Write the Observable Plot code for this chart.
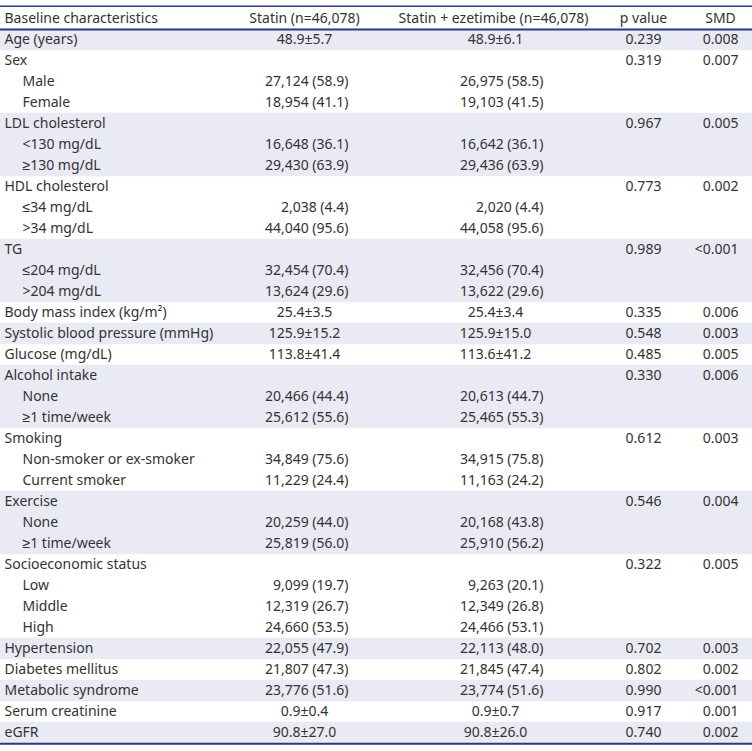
<!DOCTYPE html>
<html><head><meta charset="utf-8">
<script src="https://cdn.jsdelivr.net/npm/d3@7"></script>
<script src="https://cdn.jsdelivr.net/npm/@observablehq/plot@0.6"></script>
<style>html,body{margin:0;padding:0;background:#fff} svg{display:block}</style>
</head><body><div id="chart"></div><script>
const header = ["Baseline characteristics", "Statin (n=46,078)", "Statin + ezetimibe (n=46,078)", "p value", "SMD"];
const labels = ["Age (years)", "Sex", "Male", "Female", "LDL cholesterol", "<130 mg/dL", "≥130 mg/dL",
  "HDL cholesterol", "≤34 mg/dL", ">34 mg/dL", "TG", "≤204 mg/dL", ">204 mg/dL",
  "Body mass index (kg/m²)", "Systolic blood pressure (mmHg)", "Glucose (mg/dL)",
  "Alcohol intake", "None", "≥1 time/week", "Smoking", "Non-smoker or ex-smoker", "Current smoker",
  "Exercise", "None", "≥1 time/week", "Socioeconomic status", "Low", "Middle", "High",
  "Hypertension", "Diabetes mellitus", "Metabolic syndrome", "Serum creatinine", "eGFR"];
const levels = [0,0,1,1,0,1,1,0,1,1,0,1,1,0,0,0,0,1,1,0,1,1,0,1,1,0,1,1,1,0,0,0,0,0];
const statin = ["48.9±5.7", "", "27,124 (58.9)", "18,954 (41.1)", "", "16,648 (36.1)", "29,430 (63.9)",
  "", "2,038 (4.4)", "44,040 (95.6)", "", "32,454 (70.4)", "13,624 (29.6)",
  "25.4±3.5", "125.9±15.2", "113.8±41.4", "", "20,466 (44.4)", "25,612 (55.6)",
  "", "34,849 (75.6)", "11,229 (24.4)", "", "20,259 (44.0)", "25,819 (56.0)",
  "", "9,099 (19.7)", "12,319 (26.7)", "24,660 (53.5)",
  "22,055 (47.9)", "21,807 (47.3)", "23,776 (51.6)", "0.9±0.4", "90.8±27.0"];
const ezetimibe = ["48.9±6.1", "", "26,975 (58.5)", "19,103 (41.5)", "", "16,642 (36.1)", "29,436 (63.9)",
  "", "2,020 (4.4)", "44,058 (95.6)", "", "32,456 (70.4)", "13,622 (29.6)",
  "25.4±3.4", "125.9±15.0", "113.6±41.2", "", "20,613 (44.7)", "25,465 (55.3)",
  "", "34,915 (75.8)", "11,163 (24.2)", "", "20,168 (43.8)", "25,910 (56.2)",
  "", "9,263 (20.1)", "12,349 (26.8)", "24,466 (53.1)",
  "22,113 (48.0)", "21,845 (47.4)", "23,774 (51.6)", "0.9±0.7", "90.8±26.0"];
const pValues = ["0.239", "0.319", "", "", "0.967", "", "", "0.773", "", "", "0.989", "", "",
  "0.335", "0.548", "0.485", "0.330", "", "", "0.612", "", "", "0.546", "", "",
  "0.322", "", "", "", "0.702", "0.802", "0.990", "0.917", "0.740"];
const smdValues = ["0.008", "0.007", "", "", "0.005", "", "", "0.002", "", "", "<0.001", "", "",
  "0.006", "0.003", "0.005", "0.006", "", "", "0.003", "", "", "0.004", "", "",
  "0.005", "", "", "", "0.003", "0.002", "<0.001", "0.001", "0.002"];
const shadedRows = [1, 5, 6, 7, 11, 12, 13, 15, 17, 18, 19, 23, 24, 25, 30, 32, 34];

// layout (column anchors, pixels)
const W = 752, H = 751;
const col = {label: 4, sub: 22, c1c: 304, c1r: 348, c2c: 495, c2r: 543, p: 643, smdR: 738, smdH: 720};
const rowH = 21.3;

const rows = labels.map((label, i) => ({
  row: i + 1, label, level: levels[i],
  statin: statin[i], eze: ezetimibe[i], p: pValues[i], smd: smdValues[i]
}));
const isMean = s => s.includes("±");
const ink = "#333333";
const navy = "#2b3983";
const fs = 14;

const chart = Plot.plot({
  width: W, height: H,
  margin: 0,
  x: {type: "identity", axis: null},
  y: {type: "point", domain: d3.range(35), range: [12.8, 12.8 + 34 * rowH], padding: 0, axis: null},
  style: {fontFamily: "'Noto Sans', sans-serif", background: "#fff"},
  marks: [
    Plot.ruleY(shadedRows, {y: d => d, stroke: "#e9eaf4", strokeWidth: rowH}),
    Plot.ruleY([0], {y: d => d, dy: -12.2, stroke: navy, strokeWidth: 1.5}),
    Plot.ruleY([0], {y: d => d, dy: 11, stroke: navy, strokeWidth: 2}),
    Plot.ruleY([34], {y: d => d, dy: 11.2, stroke: navy, strokeWidth: 2}),
    // header
    Plot.text([header[0]], {x: () => col.label, y: () => 0, text: d => d, textAnchor: "start", fill: ink, fontSize: fs}),
    Plot.text([header[1]], {x: () => col.c1c, y: () => 0, text: d => d, textAnchor: "middle", fill: ink, fontSize: fs}),
    Plot.text([header[2]], {x: () => 493, y: () => 0, text: d => d, textAnchor: "middle", fill: ink, fontSize: fs}),
    Plot.text([header[3]], {x: () => col.p, y: () => 0, text: d => d, textAnchor: "middle", fill: ink, fontSize: fs}),
    Plot.text([header[4]], {x: () => col.smdH, y: () => 0, text: d => d, textAnchor: "middle", fill: ink, fontSize: fs}),
    // labels
    Plot.text(rows, {x: d => d.level ? col.sub : col.label, y: "row", text: "label", textAnchor: "start", fill: ink, fontSize: fs}),
    // statin
    Plot.text(rows.filter(d => isMean(d.statin)), {x: () => col.c1c, y: "row", text: "statin", textAnchor: "middle", fill: ink, fontSize: fs}),
    Plot.text(rows.filter(d => d.statin && !isMean(d.statin)), {x: () => col.c1r, y: "row", text: "statin", textAnchor: "end", fill: ink, fontSize: fs}),
    // ezetimibe
    Plot.text(rows.filter(d => isMean(d.eze)), {x: () => col.c2c, y: "row", text: "eze", textAnchor: "middle", fill: ink, fontSize: fs}),
    Plot.text(rows.filter(d => d.eze && !isMean(d.eze)), {x: () => col.c2r, y: "row", text: "eze", textAnchor: "end", fill: ink, fontSize: fs}),
    // p value
    Plot.text(rows.filter(d => d.p), {x: () => col.p, y: "row", text: "p", textAnchor: "middle", fill: ink, fontSize: fs}),
    // SMD
    Plot.text(rows.filter(d => d.smd), {x: () => col.smdR, y: "row", text: "smd", textAnchor: "end", fill: ink, fontSize: fs})
  ]
});
document.getElementById("chart").appendChild(chart);
</script></body></html>
